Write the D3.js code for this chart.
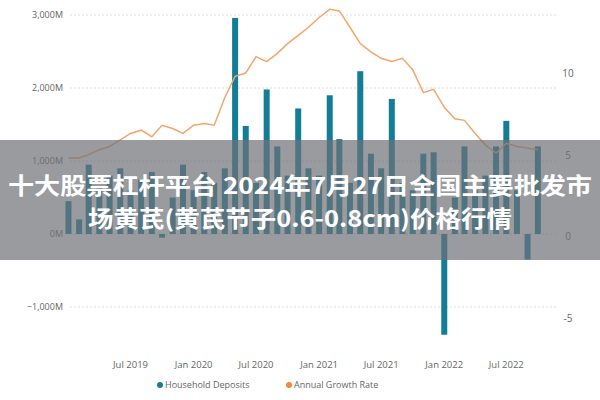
<!DOCTYPE html>
<html><head><meta charset="utf-8">
<script src="https://cdn.jsdelivr.net/npm/d3@7"></script>
<style>body{margin:0;background:#fff}svg{font-family:"Open Sans","Noto Sans",sans-serif}</style>
</head><body><svg id="c" width="600" height="400"></svg>
<script>
const months = d3.timeMonths(new Date(2019, 0, 1), new Date(2022, 10, 1));
const deposits = [450,200,950,650,800,900,600,750,850,-50,500,950,600,850,700,900,2960,1480,700,1980,1200,800,1720,900,800,1900,1300,700,2230,1100,900,1850,700,600,1100,1120,-1380,500,1200,600,800,1200,1550,600,-350,1200];
const growth = [4.8,4.8,5.0,5.3,5.5,5.9,6.3,6.5,6.1,6.8,6.6,6.3,6.8,6.9,6.8,8.5,9.8,10.0,11.0,10.7,11.2,11.8,12.3,12.8,13.4,13.9,13.8,12.8,11.8,11.3,10.9,10.7,10.9,10.2,8.8,9.0,7.9,7.2,7.1,6.3,5.6,5.1,5.7,5.5,5.4,5.3];
const leftTicks = [-1000,0,1000,2000,3000];
const rightTicks = [-5,0,5,10];
const xTicks = [new Date(2019,6,1),new Date(2020,0,1),new Date(2020,6,1),new Date(2021,0,1),new Date(2021,6,1),new Date(2022,0,1),new Date(2022,6,1)];
const titleLines = ["十大股票杠杆平台 2024年7月27日全国主要批发市","场黄芪(黄芪节子0.6-0.8cm)价格行情"];

const svg = d3.select("#c");
const x = d3.scaleTime().domain([new Date(2018,11,16), new Date(2022,9,16)]).range([63, 543]);
const yL = d3.scaleLinear().domain([-1000,3000]).range([307,15]);
const yR = d3.scaleLinear().domain([-5,10]).range([318,73]);

// grid
svg.selectAll(".g").data(leftTicks).join("line")
  .attr("x1",70).attr("x2",557).attr("y1",d=>yL(d)).attr("y2",d=>yL(d))
  .attr("stroke","#ddd").attr("stroke-dasharray","2,2");
svg.selectAll(".lt").data(leftTicks).join("text")
  .attr("x",63).attr("y",d=>yL(d)+3).attr("text-anchor","end")
  .attr("font-size",9).attr("fill","#666").text(d=>d3.format(",")(d)+"M");
svg.selectAll(".rt").data(rightTicks).join("text")
  .attr("x",568).attr("y",d=>yR(d)+4).attr("text-anchor","middle")
  .attr("font-size",10).attr("fill","#666").text(d=>d);

svg.selectAll(".bar").data(deposits).join("rect")
  .attr("x",(d,i)=>x(months[i])-3).attr("width",6)
  .attr("y",d=>yL(Math.max(0,d))).attr("height",d=>Math.abs(yL(d)-yL(0)))
  .attr("fill","#137d96");

svg.append("path").datum(growth)
  .attr("d", d3.line().x((d,i)=>x(months[i])).y(d=>yR(d)))
  .attr("fill","none").attr("stroke","#f4a56c").attr("stroke-width",1.5);

svg.selectAll(".xt").data(xTicks).join("text")
  .attr("x",d=>x(d)).attr("y",368).attr("text-anchor","middle")
  .attr("font-size",9.5).attr("fill","#666").text(d3.timeFormat("%b %Y"));

// legend
const lg = svg.append("g").attr("transform","translate(160,388)");
lg.append("circle").attr("cx",0).attr("cy",-3).attr("r",3).attr("fill","#137d96");
lg.append("text").attr("x",5).attr("y",0).attr("font-size",9).attr("fill","#666").text("Household Deposits");
lg.append("circle").attr("cx",129).attr("cy",-3).attr("r",3).attr("fill","#f28b30");
lg.append("text").attr("x",134).attr("y",0).attr("font-size",9).attr("fill","#666").text("Annual Growth Rate");

// overlay band
svg.append("rect").attr("x",0).attr("y",140).attr("width",600).attr("height",120)
  .attr("fill","rgb(110,112,118)").attr("opacity",0.7);
svg.selectAll(".tt").data(titleLines).join("text")
  .attr("x",300).attr("y",(d,i)=>194+i*33).attr("text-anchor","middle")
  .attr("font-family","'Noto Sans CJK SC',sans-serif").attr("font-weight","bold")
  .attr("font-size",23).attr("fill","#fff")
  .attr("textLength",(d,i)=>i===0?584:424).attr("lengthAdjust","spacingAndGlyphs")
  .text(d=>d);
</script></body></html>
